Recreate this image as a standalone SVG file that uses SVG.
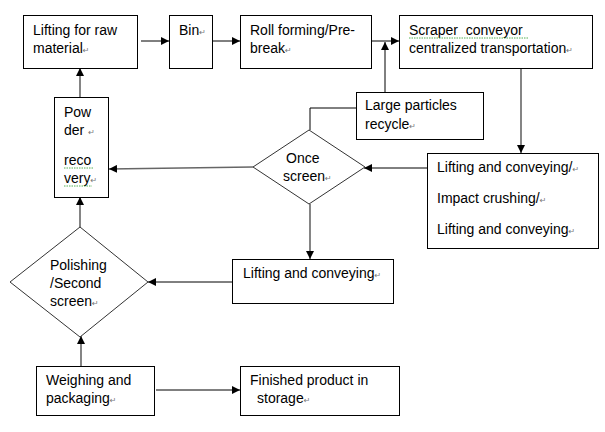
<svg xmlns="http://www.w3.org/2000/svg" width="605" height="432" viewBox="0 0 605 432">
<defs>
<style>
.box{fill:#fff;stroke:#000;stroke-width:1}
.dia{fill:#fff;stroke:#333;stroke-width:1}
.t{font-family:"Liberation Sans",Arial,sans-serif;font-size:14px;fill:#000;white-space:pre}
.pm{font-family:"DejaVu Sans",sans-serif;font-size:8px;fill:#777}
.c{fill:none;stroke:#000;stroke-width:1}
.g{fill:none;stroke:#666;stroke-width:1.6}
.sq{fill:none;stroke:#2a9d2a;stroke-width:0.8;stroke-dasharray:1.5 1}
</style>
<marker id="ah" viewBox="0 0 10 10" refX="10" refY="5" markerWidth="8" markerHeight="8" markerUnits="userSpaceOnUse" orient="auto">
<path d="M0,0 L10,5 L0,10 z" fill="#000"/>
</marker>
</defs>
<rect width="605" height="432" fill="#fff"/>

<g id="connectors">
<line class="c" x1="141" y1="41" x2="169" y2="41" marker-end="url(#ah)"/>
<line class="c" x1="212" y1="41" x2="240" y2="41" marker-end="url(#ah)"/>
<line class="c" x1="372" y1="41" x2="399" y2="41" marker-end="url(#ah)"/>
<line class="c" x1="385" y1="92" x2="385" y2="42" marker-end="url(#ah)"/>
<polyline class="c" points="356,108 310,108 310,130"/>
<line class="g" x1="521" y1="68" x2="521" y2="153" marker-end="url(#ah)"/>
<line class="c" x1="427" y1="168" x2="364" y2="168" marker-end="url(#ah)"/>
<line class="g" x1="253" y1="167" x2="109" y2="169" marker-end="url(#ah)"/>
<line class="g" x1="310" y1="204" x2="310" y2="259" marker-end="url(#ah)"/>
<line class="c" x1="232" y1="282" x2="148" y2="282" marker-end="url(#ah)"/>
<line class="g" x1="80" y1="227" x2="80" y2="197" marker-end="url(#ah)"/>
<line class="g" x1="80" y1="97" x2="80" y2="68" marker-end="url(#ah)"/>
<line class="g" x1="81" y1="366" x2="81" y2="336" marker-end="url(#ah)"/>
<line class="c" x1="156" y1="390" x2="240" y2="390" marker-end="url(#ah)"/>
</g>

<g id="raw">
<rect class="box" x="23.5" y="15.5" width="114" height="53"/>
<text class="t" x="33" y="35">Lifting for raw</text>
<text class="t" x="33" y="53">material<tspan class="pm">↵</tspan></text>
</g>

<g id="bin">
<rect class="box" x="169.5" y="15.5" width="43" height="53"/>
<text class="t" x="179" y="35">Bin<tspan class="pm">↵</tspan></text>
</g>

<g id="roll">
<rect class="box" x="240.5" y="15.5" width="131" height="53"/>
<text class="t" x="250" y="35">Roll forming/Pre-</text>
<text class="t" x="250" y="53">break<tspan class="pm">↵</tspan></text>
</g>

<g id="scraper">
<rect class="box" x="399.5" y="15.5" width="193" height="53"/>
<text class="t" x="409" y="35">Scraper  conveyor</text>
<path class="sq" d="M409,38 L528,38"/>
<text class="t" x="409" y="53">centralized transportation<tspan class="pm">↵</tspan></text>
</g>

<g id="powder">
<rect class="box" x="54.5" y="97.5" width="54" height="100"/>
<text class="t" x="64" y="117">Pow</text>
<text class="t" x="64" y="135">der <tspan class="pm">↵</tspan></text>
<text class="t" x="64" y="165">reco</text>
<path class="sq" d="M64,168 L93,168"/>
<text class="t" x="64" y="183">very<tspan class="pm">↵</tspan></text>
<path class="sq" d="M64,186 L92,186"/>
</g>

<g id="large">
<rect class="box" x="356.5" y="92.5" width="127" height="47"/>
<text class="t" x="365" y="110">Large particles</text>
<text class="t" x="365" y="129">recycle<tspan class="pm">↵</tspan></text>
</g>

<g id="once">
<polygon class="dia" points="309,130 365,167 309,204 253,167"/>
<text class="t" x="286" y="163">Once</text>
<text class="t" x="283" y="181">screen<tspan class="pm">↵</tspan></text>
</g>

<g id="crush">
<rect class="box" x="427.5" y="153.5" width="171" height="95"/>
<text class="t" x="437" y="172">Lifting and conveying/<tspan class="pm">↵</tspan></text>
<text class="t" x="437" y="203">Impact crushing/<tspan class="pm">↵</tspan></text>
<text class="t" x="437" y="234">Lifting and conveying<tspan class="pm">↵</tspan></text>
</g>

<g id="lift">
<rect class="box" x="232.5" y="259.5" width="161" height="44"/>
<text class="t" x="243" y="278">Lifting and conveying<tspan class="pm">↵</tspan></text>
</g>

<g id="polish">
<polygon class="dia" points="80,227 148,282 80,337 10,282"/>
<text class="t" x="50" y="270">Polishing</text>
<text class="t" x="50" y="288">/Second</text>
<text class="t" x="50" y="306">screen<tspan class="pm">↵</tspan></text>
</g>

<g id="weigh">
<rect class="box" x="36.5" y="366.5" width="118" height="49"/>
<text class="t" x="46" y="385">Weighing and</text>
<text class="t" x="46" y="403">packaging<tspan class="pm">↵</tspan></text>
</g>

<g id="finished">
<rect class="box" x="240.5" y="366.5" width="159" height="49"/>
<text class="t" x="250" y="385">Finished product in</text>
<text class="t" x="257" y="403">storage<tspan class="pm">↵</tspan></text>
</g>
</svg>
